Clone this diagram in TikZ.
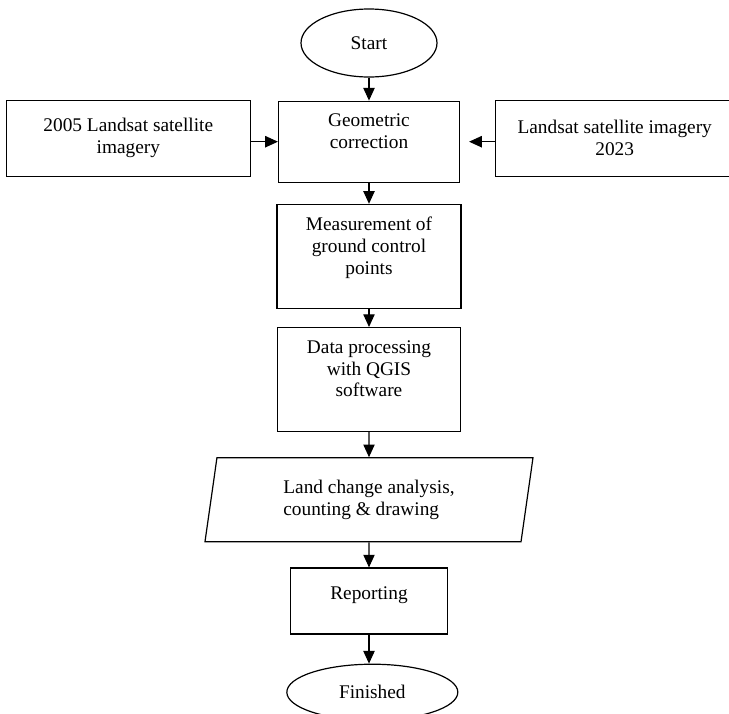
\documentclass[tikz,border=0pt]{standalone}
\usepackage{fontspec}
\setmainfont{Liberation Serif}
\usepackage{tikz}
\usetikzlibrary{arrows.meta,positioning,shapes.geometric}

\begin{document}
\begin{tikzpicture}[
    block/.style={draw=black, line width=0.9pt, align=center, inner sep=3pt, font=\fontsize{14.5}{16.3}\selectfont},
    term/.style={ellipse, draw=black, line width=0.9pt, align=center, inner sep=1pt, font=\fontsize{14.5}{16.3}\selectfont},
    io/.style={trapezium, trapezium left angle=75, trapezium right angle=105, trapezium stretches body, draw=black, line width=0.9pt, align=left, inner sep=2pt, font=\fontsize{14.5}{16.3}\selectfont},
    arrow/.style={-{Triangle[width=8.5pt, length=9.5pt]}, line width=0.8pt, draw=black}
]
\useasboundingbox (0,0) rectangle (546.75pt,-535.5pt);

\node[term, minimum width=102pt, minimum height=51pt] (start) at (276.75pt,-32.25pt) {Start};
\node[block, below=17.25pt of start, minimum width=135.75pt, minimum height=60.75pt] (geom) {Geometric\\correction\\~};
\node[block, left=20.25pt of geom, yshift=2.6pt, minimum width=183pt, minimum height=57pt] (lsat05) {2005 Landsat satellite\\imagery};
\node[block, right=26.25pt of geom, yshift=2.6pt, minimum width=178.5pt, minimum height=57pt] (lsat23) {Landsat satellite imagery\\2023};

\node[block, below=15.75pt of geom, minimum width=138pt, minimum height=78pt] (gcp) {Measurement of\\ground control\\points\\~};
\node[block, below=13.5pt of gcp, minimum width=137.25pt, minimum height=78pt] (qgis) {Data processing\\with QGIS\\software\\~};
\node[io, below=18.75pt of qgis, minimum width=246pt, minimum height=63pt] (change) {Land change analysis,\\counting \& drawing};
\node[block, below=18.75pt of change, minimum width=117.75pt, minimum height=49.5pt, text depth=12pt] (report) {Reporting};
\node[term, below=21.75pt of report, xshift=2.5pt, minimum width=128.25pt, minimum height=42pt] (finish) {Finished};

\draw[arrow] (start) -- (geom);
\draw[arrow] (lsat05.east |- geom) -- (geom);
\draw[arrow, shorten >=6.75pt] (lsat23.west |- geom) -- (geom);
\draw[arrow] (geom) -- (gcp);
\draw[arrow] (gcp) -- (qgis);
\draw[arrow] (qgis) -- (change);
\draw[arrow] (change) -- (report);
\draw[arrow] (report.south) -- (report.south |- finish.north);

\end{tikzpicture}
\end{document}
